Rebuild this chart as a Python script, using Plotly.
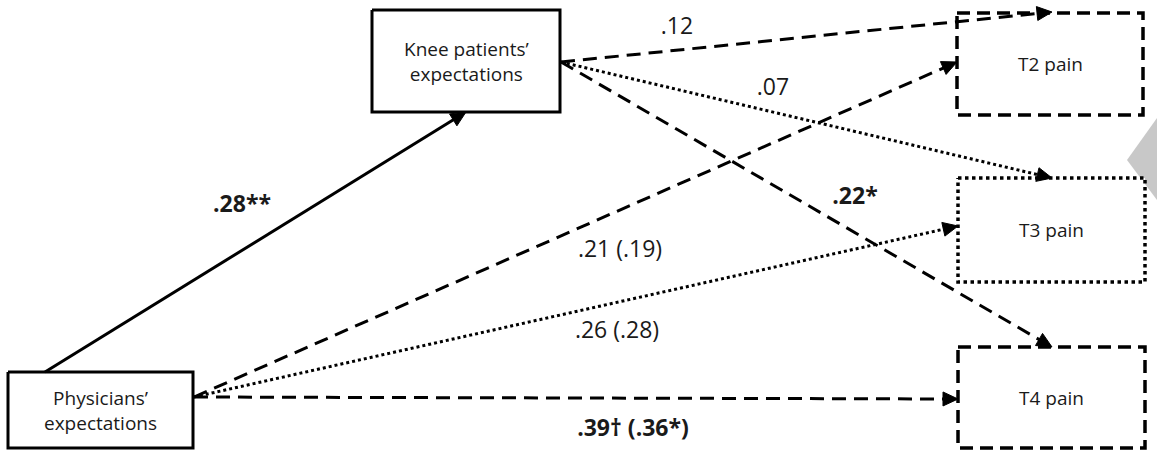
import math
import plotly.graph_objects as go

# ---------------- data ----------------
node_ids = ["phys", "knee", "t2", "t3", "t4"]
node_labels = ["Physicians’<br>expectations", "Knee patients’<br>expectations",
               "T2 pain", "T3 pain", "T4 pain"]
node_border = ["solid", "solid", "dash", "dot", "dash"]

path_from = ["phys", "knee", "knee", "knee", "phys", "phys", "phys"]
path_to = ["knee", "t2", "t3", "t4", "t2", "t3", "t4"]
path_coef = [".28**", ".12", ".07", ".22*", ".21 (.19)", ".26 (.28)", ".39† (.36*)"]
path_bold = [True, False, False, True, False, False, True]
path_style = ["solid", "dash", "dot", "dash", "dash", "dot", "dash"]

# ---------------- layout geometry (pixels) ----------------
W, H = 1157, 452
box_rect = {
    "phys": (8, 372, 193, 448),
    "knee": (372, 10, 560, 112),
    "t2": (957, 13, 1143, 115),
    "t3": (958, 178, 1145, 282),
    "t4": (958, 347, 1145, 448),
}
path_start = [(45, 372), (561, 62), (561, 62), (561, 62), (194, 397), (194, 397), (194, 397)]
path_end = [(466, 112), (1052, 12), (1052, 178), (1052, 347), (957, 62), (958, 226), (958, 399)]
label_xy = [(242, 206), (677, 28), (773, 89), (855, 198), (620, 251), (617, 332), (633, 430)]
tri_x = [1157, 1127, 1157]
tri_y = [118, 160, 200]

dash_map = {"solid": "solid", "dash": "14px,8px", "dot": "3px,3px"}
box_dash = {"solid": "solid", "dash": "13px,7px", "dot": "3.5px,3.5px"}
FONT = "Open Sans"

fig = go.Figure()

# gray triangle marker at right
fig.add_trace(go.Scatter(x=tri_x, y=tri_y, fill="toself", fillcolor="#c8c8c8",
                         line=dict(width=0, color="#c8c8c8"), mode="lines",
                         hoverinfo="skip", showlegend=False))

# boxes
for nid, lab, bd in zip(node_ids, node_labels, node_border):
    x0, y0, x1, y1 = box_rect[nid]
    fig.add_trace(go.Scatter(
        x=[x0, x1, x1, x0, x0], y=[y0, y0, y1, y1, y0],
        mode="lines", fill="toself", fillcolor="white",
        line=dict(color="black", width=3.5 if bd != "solid" else 3, dash=box_dash[bd]),
        hoverinfo="skip", showlegend=False))
    fig.add_annotation(x=(x0 + x1) / 2, y=(y0 + y1) / 2, xref="x", yref="y",
                       text=lab, showarrow=False,
                       font=dict(family=FONT, size=19, color="#1a1a1a"))

# paths with arrowheads
L, HW = 15, 7
for (sx, sy), (ex, ey), st in zip(path_start, path_end, path_style):
    dx, dy = ex - sx, ey - sy
    d = math.hypot(dx, dy)
    ux, uy = dx / d, dy / d
    nx, ny = -uy, ux
    lx, ly = ex - (L - 3) * ux, ey - (L - 3) * uy
    fig.add_trace(go.Scatter(x=[sx, lx], y=[sy, ly], mode="lines",
                             line=dict(color="black", width=3, dash=dash_map[st]),
                             hoverinfo="skip", showlegend=False))
    bx, by = ex - L * ux, ey - L * uy
    fig.add_trace(go.Scatter(x=[ex, bx + HW * nx, bx - HW * nx, ex],
                             y=[ey, by + HW * ny, by - HW * ny, ey],
                             mode="lines", fill="toself", fillcolor="black",
                             line=dict(color="black", width=1),
                             hoverinfo="skip", showlegend=False))

# coefficient labels
fig.add_trace(go.Scatter(
    x=[p[0] for p in label_xy], y=[p[1] for p in label_xy],
    mode="text",
    text=[f"<b>{c}</b>" if b else c for c, b in zip(path_coef, path_bold)],
    textposition="middle center",
    textfont=dict(family=FONT, size=23, color="#1a1a1a"),
    hoverinfo="skip", showlegend=False))

fig.update_layout(
    width=W, height=H,
    margin=dict(l=0, r=0, t=0, b=0),
    paper_bgcolor="white", plot_bgcolor="white",
    xaxis=dict(range=[0, W], visible=False, fixedrange=True),
    yaxis=dict(range=[H, 0], visible=False, fixedrange=True),
    showlegend=False,
)

fig.write_html("out.html", config={"displayModeBar": False},
               post_script="document.body.style.margin='0px';")
